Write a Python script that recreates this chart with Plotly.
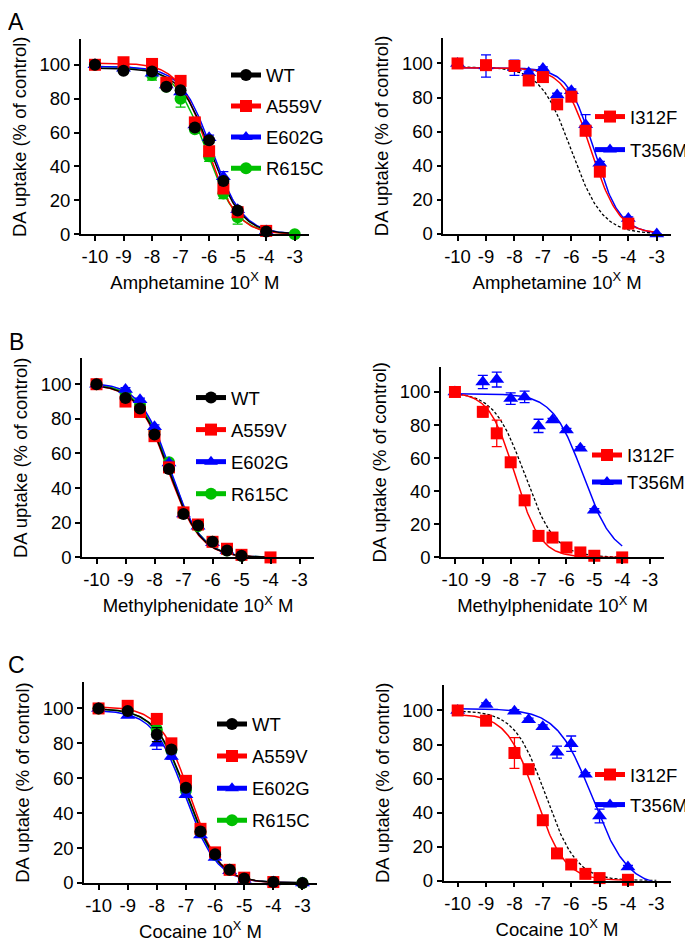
import numpy as np
import plotly.graph_objects as go

# ---------------- DATA ----------------
x_ticks = [-10, -9, -8, -7, -6, -5, -4, -3]
x_tick_labels = ['-10', '-9', '-8', '-7', '-6', '-5', '-4', '-3']
y_ticks = [0, 20, 40, 60, 80, 100]

# Panel A (Amphetamine)
x_A = [-10, -9, -8, -7.5, -7, -6.5, -6, -5.5, -5, -4, -3]
A_WT = [100, 96.5, 96, 87, 85, 63, 55.5, 31.5, 14, 1.7, None]
A_WT_err = [0, 1, 1, 1, 1, 1, 1.5, 1.5, 1, 0.5, 0]
A_A559V = [100, 101.5, 100.5, 89.5, 90.5, 66, 49, 27, 13, 2, None]
A_A559V_err = [0, 1, 1, 1, 1, 1.5, 1.5, 1.5, 1, 0.5, 0]
A_E602G = [100, 98, 95, 88, 84, 64.5, 57, 34, 14.5, 2, None]
A_E602G_err = [0, 1, 1, 1, 1, 1, 1.5, 3, 1, 0.5, 0]
A_R615C = [100, 97, 94, 87, 80, 62, 46, 24, 10, 2, 0]
A_R615C_err = [0, 1, 3, 1, 5, 1, 3, 3, 4, 0.5, 0]
A_I312F = [100, 99, 98.5, 90, 92, 76, 80.5, 60.5, 36.5, 6, None]
A_I312F_err = [0, 2, 2, 1.5, 2, 2.5, 2, 2, 2, 1, 0]
A_T356M = [100, 98.5, 97.5, 94.5, 97, 81.5, 84, 64, 41.5, 9, 0]
A_T356M_err = [0, 6.5, 4.5, 1, 1, 1, 1, 6, 1, 1, 0]

# Panel B (Methylphenidate)
x_B = [-10, -9, -8.5, -8, -7.5, -7, -6.5, -6, -5.5, -5, -4]
B_WT = [100, 92, 86, 71, 51, 25, 18.5, 9, 4, 1, None]
B_WT_err = [0, 1, 1, 1, 1, 1, 1, 1, 0.5, 0.5, 0]
B_A559V = [100, 90, 84, 70, 52, 26, 19, 9, 5, 1.5, 0]
B_A559V_err = [0, 1, 1, 1, 1, 1, 1, 1, 0.5, 0.5, 0]
B_E602G = [100, 97, 91, 75.5, 54.5, 25, 18, 8.5, 4, 1, None]
B_E602G_err = [0, 1, 1, 1, 1, 1, 1, 1, 0.5, 0.5, 0]
B_R615C = [100, 95, 88, 73, 55, 26, 18, 9, 4, 1, None]
B_R615C_err = [0, 1, 1, 1, 1, 1, 1, 1, 0.5, 0.5, 0]
B_I312F = [100, 88, 75, 57.5, 34.5, 13, 12, 6, 3, 1, 0]
B_I312F_err = [0, 3, 8, 2, 2, 2, 2, 1, 1, 1, 0]
B_T356M = [100, 106, 107.5, 96, 97, 79.5, 83, 77, 66, 28.5, None]
B_T356M_err = [0, 4, 4.5, 3.5, 3.5, 4, 1, 1, 1, 1, 0]

# Panel C (Cocaine)
x_C = [-10, -9, -8, -7.5, -7, -6.5, -6, -5.5, -5, -4, -3]
C_WT = [100, 98.5, 85, 76.5, 54.5, 29.5, 16.5, 7.5, 2.5, 0.5, 0]
C_WT_err = [0, 1, 4, 1.5, 1.5, 1, 1, 1, 0.5, 0.5, 0]
C_A559V = [100, 101.5, 94, 80, 58.5, 31, 17.5, 7.5, 3, 0.5, None]
C_A559V_err = [0, 1, 1.5, 1.5, 1.5, 1, 1, 1, 0.5, 0.5, 0]
C_E602G = [100, 96, 80, 72.5, 50.5, 27.5, 14.5, 7, 2, 0.5, 0]
C_E602G_err = [0, 1, 3.5, 1.5, 1.5, 1, 1, 1, 0.5, 0.5, 0]
C_R615C = [100, 99, 88, 76, 53, 29, 16, 7.5, 2.5, 0.5, 0]
C_R615C_err = [0, 1, 1.5, 1.5, 1.5, 1, 1, 1, 0.5, 0.5, 0]
x_C2 = [-10, -9, -8, -7.5, -7, -6.5, -6, -5.5, -5, -4]
C_I312F = [100, 94, 75, 65.5, 35.5, 16, 9.5, 4, 1.5, 0.5]
C_I312F_err = [0, 1.5, 9, 1.5, 1.5, 1.5, 1, 1, 1, 0.5]
C_T356M = [100, 103.5, 99.5, 94.5, 90.5, 75.5, 80.5, 62.5, 38, 8]
C_T356M_err = [0, 1, 1, 1, 1, 3.5, 4.5, 1, 4, 1]

# Fitted sigmoid parameters: [top, bottom, logIC50, hill, x_start, x_end]
A_WT_fit = [98, 0, -5.95, 0.8, -10, -3]
A_A559V_fit = [101, 0, -6.05, 0.85, -10, -3]
A_E602G_fit = [99, 0, -5.9, 0.8, -10, -3]
A_R615C_fit = [99, 0, -6.1, 0.8, -10, -3]
A_I312F_fit = [97.5, 0, -5.3, 0.9, -10, -3]
A_T356M_fit = [97.5, 0, -5.2, 0.95, -10, -3]
A_WTref_fit = [98, 0, -6.0, 0.8, -10, -3]

B_WT_fit = [100, 0, -7.5, 0.8, -10, -4]
B_A559V_fit = [100, 0, -7.52, 0.8, -10, -4]
B_E602G_fit = [101, 0, -7.45, 0.82, -10, -4]
B_R615C_fit = [100.5, 0, -7.47, 0.8, -10, -4]
B_I312F_fit = [100, 0, -7.85, 0.95, -10, -4]
B_T356M_fit = [99, 0, -5.4, 0.8, -10, -4]
B_WTref_fit = [100, 0, -7.5, 0.8, -10, -4]

C_WT_fit = [100, 0, -6.95, 0.8, -10, -3]
C_A559V_fit = [101, 0, -6.88, 0.85, -10, -3]
C_E602G_fit = [99, 0, -7.02, 0.8, -10, -3]
C_R615C_fit = [100, 0, -6.97, 0.8, -10, -3]
C_I312F_fit = [98, 0, -7.25, 0.85, -10, -4]
C_T356M_fit = [101, -4, -5.25, 0.7, -10, -3]
C_WTref_fit = [100, 0, -6.9, 0.8, -10, -3]

drug_names = ['Amphetamine', 'Methylphenidate', 'Cocaine']
panel_letters = ['A', 'B', 'C']

# ---------------- STYLE ----------------
COL = {'WT': '#000000', 'A559V': '#FF0000', 'E602G': '#0000FF', 'R615C': '#00C000',
       'I312F': '#FF0000', 'T356M': '#0000FF'}
SYM = {'WT': 'circle', 'A559V': 'square', 'E602G': 'triangle-up', 'R615C': 'circle',
       'I312F': 'square', 'T356M': 'triangle-up'}
MSIZE = {'circle': 12, 'square': 12, 'triangle-up': 13}
FONT = 'Liberation Sans, Arial, sans-serif'
W, H = 693, 943


def curve(p):
    top, bottom, logic50, hill, x0, x1 = p
    xs = np.linspace(x0, x1, 200)
    ys = bottom + (top - bottom) / (1 + 10 ** ((xs - logic50) * hill))
    return xs, ys


# panel boxes in pixels: left, right, top, bottom
boxes = [
    (72.7, 301.0, 31.7, 228.7), (435.3, 663.0, 30.2, 228.3),
    (74.0, 306.0, 354.0, 555.3), (433.0, 656.0, 363.0, 555.3),
    (76.0, 309.0, 681.5, 884.3), (435.5, 662.5, 684.2, 882.0),
]

panels = [
    dict(x=x_A, drug=0, series=[('R615C', A_R615C, A_R615C_err, A_R615C_fit),
                                ('E602G', A_E602G, A_E602G_err, A_E602G_fit),
                                ('A559V', A_A559V, A_A559V_err, A_A559V_fit),
                                ('WT', A_WT, A_WT_err, A_WT_fit)],
         legend=['WT', 'A559V', 'E602G', 'R615C'], ref=None,
         leg=(218, 49, 4)),
    dict(x=x_A, drug=0, series=[('T356M', A_T356M, A_T356M_err, A_T356M_fit),
                                ('I312F', A_I312F, A_I312F_err, A_I312F_fit)],
         legend=['I312F', 'T356M'], ref=A_WTref_fit,
         leg=(582, 91, 6)),
    dict(x=x_B, drug=1, series=[('R615C', B_R615C, B_R615C_err, B_R615C_fit),
                                ('E602G', B_E602G, B_E602G_err, B_E602G_fit),
                                ('A559V', B_A559V, B_A559V_err, B_A559V_fit),
                                ('WT', B_WT, B_WT_err, B_WT_fit)],
         legend=['WT', 'A559V', 'E602G', 'R615C'], ref=None,
         leg=(183, 375, 5)),
    dict(x=x_B, drug=1, series=[('T356M', B_T356M, B_T356M_err, B_T356M_fit),
                                ('I312F', B_I312F, B_I312F_err, B_I312F_fit)],
         legend=['I312F', 'T356M'], ref=B_WTref_fit,
         leg=(579, 433, 0)),
    dict(x=x_C, drug=2, series=[('R615C', C_R615C, C_R615C_err, C_R615C_fit),
                                ('E602G', C_E602G, C_E602G_err, C_E602G_fit),
                                ('A559V', C_A559V, C_A559V_err, C_A559V_fit),
                                ('WT', C_WT, C_WT_err, C_WT_fit)],
         legend=['WT', 'A559V', 'E602G', 'R615C'], ref=None,
         leg=(204, 705, 5)),
    dict(x=x_C2, drug=2, series=[('T356M', C_T356M, C_T356M_err, C_T356M_fit),
                                 ('I312F', C_I312F, C_I312F_err, C_I312F_fit)],
         legend=['I312F', 'T356M'], ref=C_WTref_fit,
         leg=(582, 756, 3)),
]

fig = go.Figure()
layout = dict(width=W, height=H, margin=dict(l=0, r=0, t=0, b=0),
              paper_bgcolor='white', plot_bgcolor='white',
              font=dict(family=FONT, size=18, color='black'),
              showlegend=True, annotations=[])

for i, pan in enumerate(panels):
    k = i + 1
    xa = 'x' if k == 1 else f'x{k}'
    ya = 'y' if k == 1 else f'y{k}'
    lg = 'legend' if k == 1 else f'legend{k}'
    # fitted curves
    if pan['ref'] is not None:
        xs, ys = curve(pan['ref'])
        fig.add_trace(go.Scatter(x=xs, y=ys, mode='lines', xaxis=xa, yaxis=ya,
                                 line=dict(color='black', width=1.3, dash='3px,2px'),
                                 showlegend=False, hoverinfo='skip'))
    for name, yv, ev, fit in pan['series']:
        xs, ys = curve(fit)
        fig.add_trace(go.Scatter(x=xs, y=ys, mode='lines', xaxis=xa, yaxis=ya,
                                 line=dict(color=COL[name], width=1.5),
                                 showlegend=False, hoverinfo='skip'))
    # data markers
    for name, yv, ev, fit in pan['series']:
        fig.add_trace(go.Scatter(
            x=pan['x'], y=yv, mode='markers', xaxis=xa, yaxis=ya, name=name,
            marker=dict(color=COL[name], symbol=SYM[name], size=MSIZE[SYM[name]],
                        line=dict(width=0)),
            error_y=dict(type='data', array=ev, visible=True, color=COL[name],
                         thickness=1.3, width=5),
            cliponaxis=False, showlegend=False))
    # legend entries
    for j, name in enumerate(pan['legend']):
        fig.add_trace(go.Scatter(
            x=[None], y=[None], mode='lines+markers', xaxis=xa, yaxis=ya, name=name,
            legend=lg, legendgroup=f'{k}-{name}',
            line=dict(color=COL[name], width=1.5),
            marker=dict(color=COL[name], symbol=SYM[name], size=MSIZE[SYM[name]])))
    lx, ly, gap = pan['leg']
    layout[lg] = dict(x=lx / W, y=1 - ly / H, xanchor='left', yanchor='top',
                      bgcolor='rgba(0,0,0,0)', borderwidth=0, tracegroupgap=gap,
                      font=dict(family=FONT, size=18.5, color='black'),
                      itemsizing='constant')
    l, r, t, b = boxes[i]
    layout['xaxis' if k == 1 else f'xaxis{k}'] = dict(
        domain=[l / W, r / W], anchor=ya, range=[-10.5, -2.5],
        tickmode='array', tickvals=x_ticks, ticktext=x_tick_labels,
        showline=True, linecolor='black', linewidth=1.5, ticks='outside',
        ticklen=5, tickwidth=1.5, tickcolor='black', showgrid=False, zeroline=False,
        tickfont=dict(family=FONT, size=18.5, color='black'),
        automargin=True,
        title=dict(text=f'{drug_names[pan["drug"]]} 10<sup>X</sup> M',
                   font=dict(family=FONT, size=18.5, color='black'), standoff=10))
    layout['yaxis' if k == 1 else f'yaxis{k}'] = dict(
        domain=[1 - b / H, 1 - t / H], anchor=xa, range=[0, 115],
        tickmode='array', tickvals=y_ticks,
        showline=True, linecolor='black', linewidth=1.5, ticks='outside',
        ticklen=5, tickwidth=1.5, tickcolor='black', showgrid=False, zeroline=False,
        tickfont=dict(family=FONT, size=18.5, color='black'),
        title=dict(text='DA uptake (% of control)',
                   font=dict(family=FONT, size=18.5, color='black'), standoff=8))

letter_pos = [(8, 14), (8, 338), (8, 664)]
for (px, py), letter in zip(letter_pos, panel_letters):
    layout['annotations'].append(dict(
        x=px / W, y=1 - py / H, xref='paper', yref='paper', text=letter,
        showarrow=False, xanchor='center', yanchor='middle',
        font=dict(family=FONT, size=23, color='black')))

fig.update_layout(**layout)
fig.write_html('out.html')
